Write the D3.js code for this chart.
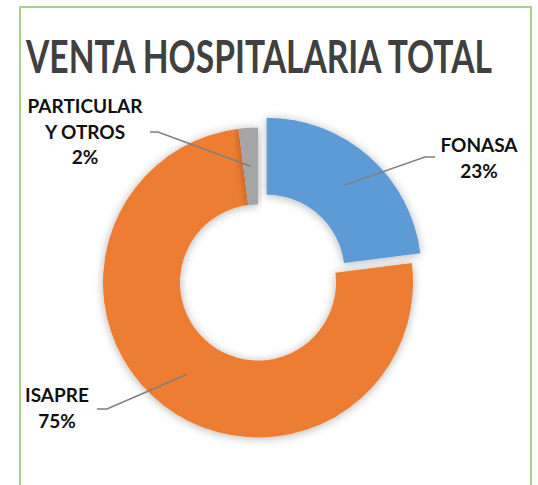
<!DOCTYPE html>
<html>
<head>
<meta charset="utf-8">
<script src="https://cdn.jsdelivr.net/npm/d3@7"></script>
<style>
  body { margin: 0; background: #fff; }
  svg { display: block; font-family: Lato, "Open Sans", sans-serif; }
</style>
</head>
<body>
<div id="chart"></div>
<script>
// chart data
const categories = ["FONASA", "ISAPRE", "PARTICULAR Y OTROS"];
const shares = [23, 75, 2];
const labelLines = [["FONASA"], ["ISAPRE"], ["PARTICULAR", "Y OTROS"]];
const colors = ["#5B9BD5", "#ED7D31", "#A5A5A5"];

const width = 538, height = 485;
const cx = 258, cy = 282.5, outerR = 155, innerR = 78;

// where each label sits, and its leader elbow
const labelLayout = [
    { x: 479, y: 152, elbow: [425, 157], end: [435, 157], explode: 13 },
    { x: 57, y: 402, elbow: [107, 409], end: [97, 409], explode: 0 },
    { x: 85, y: 113, elbow: [158, 132], end: [150, 132], explode: 0 }
];

const svg = d3.select("#chart")
    .append("svg")
    .attr("width", width)
    .attr("height", height);

const defs = svg.append("defs");
const shadow = defs.append("filter")
    .attr("id", "shadow")
    .attr("x", "-20%").attr("y", "-20%")
    .attr("width", "140%").attr("height", "140%");
shadow.append("feDropShadow")
    .attr("dx", 0).attr("dy", 1)
    .attr("stdDeviation", 5)
    .attr("flood-color", "#000")
    .attr("flood-opacity", 0.3);

// green frame of the chart area
svg.append("rect")
    .attr("x", 20).attr("y", 7)
    .attr("width", 511).attr("height", 500)
    .attr("fill", "none")
    .attr("stroke", "#A9D18E")
    .attr("stroke-width", 2);

// title, squeezed horizontally to the narrow width of the original font
const titleG = svg.append("g");
const title = titleG.append("text")
    .attr("font-size", 45)
    .attr("font-weight", 700)
    .attr("fill", "#404040")
    .text("VENTA HOSPITALARIA TOTAL");
const natural = title.node().getComputedTextLength();
titleG.attr("transform", `translate(26,73) scale(${466 / natural},1)`);

const pie = d3.pie().sort(null).value(d => d)(shares);
const arc = d3.arc().innerRadius(innerR).outerRadius(outerR);

const g = svg.append("g").attr("transform", `translate(${cx},${cy})`);

g.selectAll("path")
    .data(pie)
    .enter()
    .append("path")
    .attr("d", arc)
    .attr("fill", (d, i) => colors[i])
    .attr("filter", "url(#shadow)")
    .attr("transform", (d, i) => {
        const mid = (d.startAngle + d.endAngle) / 2;
        const k = labelLayout[i].explode;
        return `translate(${Math.sin(mid) * k},${-Math.cos(mid) * k})`;
    });

// leader lines from the slice centroid to the label
pie.forEach((d, i) => {
    const lay = labelLayout[i];
    const mid = (d.startAngle + d.endAngle) / 2;
    const c = arc.centroid(d);
    const sx = cx + c[0] + Math.sin(mid) * lay.explode;
    const sy = cy + c[1] - Math.cos(mid) * lay.explode;
    svg.append("polyline")
        .attr("points", [[sx, sy], lay.elbow, lay.end].map(p => p.join(",")).join(" "))
        .attr("fill", "none")
        .attr("stroke", "#7F7F7F")
        .attr("stroke-width", 1.5);

    const t = svg.append("text")
        .attr("x", lay.x).attr("y", lay.y)
        .attr("text-anchor", "middle")
        .attr("font-size", 19)
        .attr("font-weight", 700)
        .attr("fill", "#111");
    const lines = labelLines[i].concat([shares[i] + "%"]);
    lines.forEach((s, j) => {
        t.append("tspan")
            .attr("x", lay.x)
            .attr("dy", j === 0 ? 0 : 25.5)
            .text(s);
    });
});
</script>
</body>
</html>
